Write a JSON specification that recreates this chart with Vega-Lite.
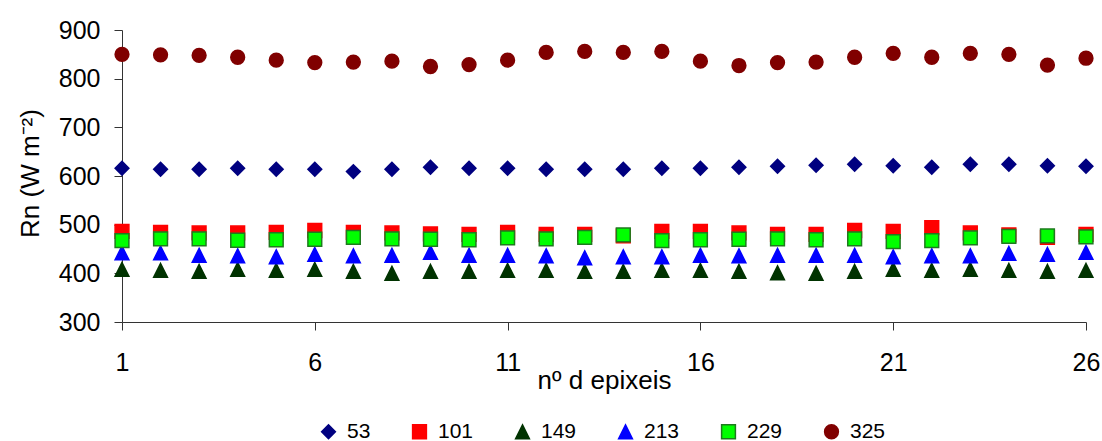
{
  "$schema": "https://vega.github.io/schema/vega-lite/v6.json",
  "width": 964,
  "height": 292,
  "autosize": "none",
  "padding": {"left": 122, "top": 30, "right": 16, "bottom": 119},
  "background": "white",
  "config": {
    "view": {"stroke": null},
    "font": "Liberation Sans",
    "legend": {
      "orient": "none",
      "legendX": 196,
      "legendY": 391,
      "direction": "horizontal",
      "padding": 0,
      "symbolSize": 190,
      "symbolStrokeWidth": 1.5,
      "labelFont": "Liberation Sans",
      "labelFontSize": 21,
      "labelColor": "#000000",
      "labelOffset": 8,
      "columnPadding": 38
    }
  },
  "datasets": {
    "rn": [
      {"series": "53", "day": 1, "Rn": 616}, {"series": "53", "day": 2, "Rn": 614}, {"series": "53", "day": 3, "Rn": 614}, {"series": "53", "day": 4, "Rn": 616}, {"series": "53", "day": 5, "Rn": 614}, {"series": "53", "day": 6, "Rn": 614}, {"series": "53", "day": 7, "Rn": 609}, {"series": "53", "day": 8, "Rn": 614}, {"series": "53", "day": 9, "Rn": 618}, {"series": "53", "day": 10, "Rn": 616}, {"series": "53", "day": 11, "Rn": 616}, {"series": "53", "day": 12, "Rn": 614}, {"series": "53", "day": 13, "Rn": 614}, {"series": "53", "day": 14, "Rn": 614}, {"series": "53", "day": 15, "Rn": 616}, {"series": "53", "day": 16, "Rn": 616}, {"series": "53", "day": 17, "Rn": 618}, {"series": "53", "day": 18, "Rn": 620}, {"series": "53", "day": 19, "Rn": 622}, {"series": "53", "day": 20, "Rn": 624}, {"series": "53", "day": 21, "Rn": 621}, {"series": "53", "day": 22, "Rn": 618}, {"series": "53", "day": 23, "Rn": 624}, {"series": "53", "day": 24, "Rn": 624}, {"series": "53", "day": 25, "Rn": 621}, {"series": "53", "day": 26, "Rn": 620},
      {"series": "101", "day": 1, "Rn": 486}, {"series": "101", "day": 2, "Rn": 484}, {"series": "101", "day": 3, "Rn": 483}, {"series": "101", "day": 4, "Rn": 483}, {"series": "101", "day": 5, "Rn": 484}, {"series": "101", "day": 6, "Rn": 488}, {"series": "101", "day": 7, "Rn": 484}, {"series": "101", "day": 8, "Rn": 483}, {"series": "101", "day": 9, "Rn": 481}, {"series": "101", "day": 10, "Rn": 480}, {"series": "101", "day": 11, "Rn": 484}, {"series": "101", "day": 12, "Rn": 480}, {"series": "101", "day": 13, "Rn": 480}, {"series": "101", "day": 14, "Rn": 477}, {"series": "101", "day": 15, "Rn": 486}, {"series": "101", "day": 16, "Rn": 486}, {"series": "101", "day": 17, "Rn": 483}, {"series": "101", "day": 18, "Rn": 480}, {"series": "101", "day": 19, "Rn": 480}, {"series": "101", "day": 20, "Rn": 488}, {"series": "101", "day": 21, "Rn": 486}, {"series": "101", "day": 22, "Rn": 494}, {"series": "101", "day": 23, "Rn": 483}, {"series": "101", "day": 24, "Rn": 479}, {"series": "101", "day": 25, "Rn": 474}, {"series": "101", "day": 26, "Rn": 480},
      {"series": "149", "day": 1, "Rn": 408}, {"series": "149", "day": 2, "Rn": 406}, {"series": "149", "day": 3, "Rn": 404}, {"series": "149", "day": 4, "Rn": 408}, {"series": "149", "day": 5, "Rn": 406}, {"series": "149", "day": 6, "Rn": 408}, {"series": "149", "day": 7, "Rn": 404}, {"series": "149", "day": 8, "Rn": 400}, {"series": "149", "day": 9, "Rn": 404}, {"series": "149", "day": 10, "Rn": 404}, {"series": "149", "day": 11, "Rn": 406}, {"series": "149", "day": 12, "Rn": 406}, {"series": "149", "day": 13, "Rn": 404}, {"series": "149", "day": 14, "Rn": 404}, {"series": "149", "day": 15, "Rn": 406}, {"series": "149", "day": 16, "Rn": 406}, {"series": "149", "day": 17, "Rn": 404}, {"series": "149", "day": 18, "Rn": 401}, {"series": "149", "day": 19, "Rn": 400}, {"series": "149", "day": 20, "Rn": 404}, {"series": "149", "day": 21, "Rn": 408}, {"series": "149", "day": 22, "Rn": 406}, {"series": "149", "day": 23, "Rn": 408}, {"series": "149", "day": 24, "Rn": 406}, {"series": "149", "day": 25, "Rn": 404}, {"series": "149", "day": 26, "Rn": 406},
      {"series": "213", "day": 1, "Rn": 442}, {"series": "213", "day": 2, "Rn": 442}, {"series": "213", "day": 3, "Rn": 437}, {"series": "213", "day": 4, "Rn": 436}, {"series": "213", "day": 5, "Rn": 434}, {"series": "213", "day": 6, "Rn": 439}, {"series": "213", "day": 7, "Rn": 436}, {"series": "213", "day": 8, "Rn": 437}, {"series": "213", "day": 9, "Rn": 443}, {"series": "213", "day": 10, "Rn": 437}, {"series": "213", "day": 11, "Rn": 437}, {"series": "213", "day": 12, "Rn": 436}, {"series": "213", "day": 13, "Rn": 432}, {"series": "213", "day": 14, "Rn": 434}, {"series": "213", "day": 15, "Rn": 434}, {"series": "213", "day": 16, "Rn": 437}, {"series": "213", "day": 17, "Rn": 436}, {"series": "213", "day": 18, "Rn": 437}, {"series": "213", "day": 19, "Rn": 437}, {"series": "213", "day": 20, "Rn": 437}, {"series": "213", "day": 21, "Rn": 434}, {"series": "213", "day": 22, "Rn": 436}, {"series": "213", "day": 23, "Rn": 436}, {"series": "213", "day": 24, "Rn": 441}, {"series": "213", "day": 25, "Rn": 439}, {"series": "213", "day": 26, "Rn": 443},
      {"series": "229", "day": 1, "Rn": 467}, {"series": "229", "day": 2, "Rn": 471}, {"series": "229", "day": 3, "Rn": 471}, {"series": "229", "day": 4, "Rn": 468}, {"series": "229", "day": 5, "Rn": 469}, {"series": "229", "day": 6, "Rn": 470}, {"series": "229", "day": 7, "Rn": 474}, {"series": "229", "day": 8, "Rn": 471}, {"series": "229", "day": 9, "Rn": 470}, {"series": "229", "day": 10, "Rn": 469}, {"series": "229", "day": 11, "Rn": 473}, {"series": "229", "day": 12, "Rn": 471}, {"series": "229", "day": 13, "Rn": 474}, {"series": "229", "day": 14, "Rn": 479}, {"series": "229", "day": 15, "Rn": 467}, {"series": "229", "day": 16, "Rn": 469}, {"series": "229", "day": 17, "Rn": 470}, {"series": "229", "day": 18, "Rn": 471}, {"series": "229", "day": 19, "Rn": 469}, {"series": "229", "day": 20, "Rn": 471}, {"series": "229", "day": 21, "Rn": 465}, {"series": "229", "day": 22, "Rn": 467}, {"series": "229", "day": 23, "Rn": 473}, {"series": "229", "day": 24, "Rn": 476}, {"series": "229", "day": 25, "Rn": 477}, {"series": "229", "day": 26, "Rn": 475},
      {"series": "325", "day": 1, "Rn": 850}, {"series": "325", "day": 2, "Rn": 849}, {"series": "325", "day": 3, "Rn": 848}, {"series": "325", "day": 4, "Rn": 844}, {"series": "325", "day": 5, "Rn": 838}, {"series": "325", "day": 6, "Rn": 833}, {"series": "325", "day": 7, "Rn": 834}, {"series": "325", "day": 8, "Rn": 836}, {"series": "325", "day": 9, "Rn": 825}, {"series": "325", "day": 10, "Rn": 829}, {"series": "325", "day": 11, "Rn": 838}, {"series": "325", "day": 12, "Rn": 854}, {"series": "325", "day": 13, "Rn": 856}, {"series": "325", "day": 14, "Rn": 854}, {"series": "325", "day": 15, "Rn": 856}, {"series": "325", "day": 16, "Rn": 836}, {"series": "325", "day": 17, "Rn": 827}, {"series": "325", "day": 18, "Rn": 833}, {"series": "325", "day": 19, "Rn": 834}, {"series": "325", "day": 20, "Rn": 844}, {"series": "325", "day": 21, "Rn": 852}, {"series": "325", "day": 22, "Rn": 844}, {"series": "325", "day": 23, "Rn": 852}, {"series": "325", "day": 24, "Rn": 850}, {"series": "325", "day": 25, "Rn": 828}, {"series": "325", "day": 26, "Rn": 842}
    ]
  },
  "data": {"name": "rn"},
  "mark": {"type": "point", "filled": true, "strokeWidth": 1.5, "opacity": 1, "size": 190},
  "encoding": {
    "x": {
      "field": "day",
      "type": "quantitative",
      "scale": {"domain": [1, 26], "nice": false, "zero": false},
      "axis": {
        "values": [1, 6, 11, 16, 21, 26],
        "title": "nº d epixeis",
        "titleFont": "Liberation Sans",
        "titleFontSize": 26,
        "titleFontWeight": "normal",
        "titleColor": "#000000",
        "titleY": 66,
        "titleBaseline": "alphabetic",
        "labelFont": "Liberation Sans",
        "labelFontSize": 25,
        "labelColor": "#000000",
        "labelPadding": 20,
        "labelFlush": false,
        "labelOverlap": false,
        "tickSize": 8,
        "tickColor": "#333333",
        "domainColor": "#333333",
        "grid": false
      }
    },
    "y": {
      "field": "Rn",
      "type": "quantitative",
      "scale": {"domain": [300, 900], "nice": false, "zero": false},
      "axis": {
        "values": [300, 400, 500, 600, 700, 800, 900],
        "title": "Rn (W m⁻²)",
        "titleFont": "Liberation Sans",
        "titleFontSize": 26,
        "titleFontWeight": "normal",
        "titleColor": "#000000",
        "titleAngle": -90,
        "titleX": -84,
        "titleY": 143,
        "titleAlign": "center",
        "titleBaseline": "alphabetic",
        "labelFont": "Liberation Sans",
        "labelFontSize": 25,
        "labelColor": "#000000",
        "labelPadding": 14,
        "labelFlush": false,
        "tickSize": 8,
        "tickColor": "#333333",
        "domainColor": "#333333",
        "grid": false
      }
    },
    "fill": {
      "field": "series",
      "type": "nominal",
      "sort": null,
      "scale": {"domain": ["53", "101", "149", "213", "229", "325"], "range": ["#000080", "#FF0000", "#003300", "#0000FF", "#00FF00", "#800000"]},
      "legend": {"title": null}
    },
    "stroke": {
      "field": "series",
      "type": "nominal",
      "sort": null,
      "scale": {"domain": ["53", "101", "149", "213", "229", "325"], "range": ["#000080", "#FF0000", "#003300", "#0000FF", "#1E7A1E", "#800000"]},
      "legend": {"title": null}
    },
    "shape": {
      "field": "series",
      "type": "nominal",
      "sort": null,
      "scale": {"domain": ["53", "101", "149", "213", "229", "325"], "range": ["diamond", "square", "M0,-1L1,1L-1,1Z", "M0,-1L1,1L-1,1Z", "square", "circle"]},
      "legend": {"title": null}
    }
  }
}
